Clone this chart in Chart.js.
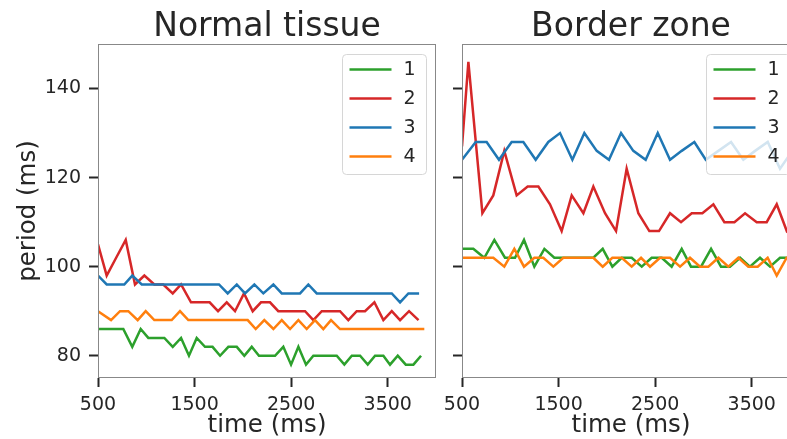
<!DOCTYPE html>
<html>
<head>
<meta charset="utf-8">
<script src="https://cdn.jsdelivr.net/npm/chart.js@4.4.1/dist/chart.umd.min.js"></script>
<style>
html,body{margin:0;padding:0;overflow:hidden;background:#fff;width:787px;height:439px}
#left{position:absolute;left:0;top:0;width:460px;height:439px}
#right{position:absolute;left:430px;top:0;width:370px;height:439px}
</style>
</head>
<body>
<div id="left"><canvas id="c1"></canvas></div>
<div id="right"><canvas id="c2"></canvas></div>
<script>
// series labels + tick values
const labels = ['1','2','3','4']
const colors = ['#2ca02c','#d62728','#1f77b4','#ff7f0e']
const xTicks = [500,1500,2500,3500]
const yTicks = [80,100,120,140]

// --- Normal tissue: activation time (ms) / period (ms) ---
const nTime1 = [500,589,676,762,855,942,1021,1104,1187,1274,1360,1442,1522,1608,1686,1764,1850,1937,2015,2092,2167,2247,2333,2419,2499,2575,2654,2730,2817,2892,2972,3051,3128,3214,3293,3369,3455,3524,3604,3687,3766,3845]
const nPer1  = [86,86,86,86,82,86,84,84,84,82,84,80,84,82,82,80,82,82,80,82,80,80,80,82,78,82,78,80,80,80,80,78,80,80,78,80,80,78,80,78,78,80]
const nTime2 = [500,590,688,787,883,980,1083,1176,1274,1360,1463,1562,1656,1743,1833,1919,2012,2102,2188,2281,2367,2465,2568,2644,2730,2817,2913,3006,3092,3179,3265,3362,3455,3542,3628,3721,3819]
const nPer2  = [105,98,102,106,96,98,96,96,94,96,92,92,92,90,92,90,94,90,92,92,90,90,90,90,88,90,90,90,88,90,90,92,88,90,88,90,88]
const nTime3 = [500,590,681,772,855,953,1053,1152,1253,1352,1453,1553,1653,1753,1843,1937,2022,2119,2212,2316,2403,2499,2592,2678,2765,2862,2960,3056,3153,3251,3348,3444,3542,3628,3714,3825]
const nPer3  = [98,96,96,96,98,96,96,96,96,96,96,96,96,96,94,96,94,96,94,96,94,94,94,96,94,94,94,94,94,94,94,94,94,92,94,94]
const nTime4 = [500,635,728,814,911,994,1083,1173,1263,1349,1435,1523,1611,1699,1787,1875,1963,2050,2133,2222,2316,2403,2489,2575,2661,2747,2833,2913,3006,3093,3181,3268,3355,3443,3530,3617,3704,3792,3879]
const nPer4  = [90,88,90,90,88,90,88,88,88,90,88,88,88,88,88,88,88,88,86,88,86,88,86,88,86,88,86,88,86,86,86,86,86,86,86,86,86,86,86]

// --- Border zone ---
const bTime1 = [500,617,731,835,945,1049,1142,1249,1353,1456,1556,1656,1760,1860,1957,2057,2154,2257,2361,2464,2568,2671,2775,2871,2975,3079,3182,3275,3379,3482,3586,3690,3793,3897]
const bPer1  = [104,104,102,106,102,102,106,100,104,102,102,102,102,102,104,100,102,102,100,102,102,100,104,100,100,104,100,100,102,100,102,100,102,102]
const bTime2 = [500,566,711,824,938,1066,1180,1291,1411,1532,1636,1757,1860,1981,2095,2205,2326,2440,2540,2654,2768,2879,2989,3103,3217,3321,3431,3552,3655,3759,3863,3970]
const bPer2  = [127,146,112,116,126,116,118,118,114,108,116,112,118,112,108,122,112,108,108,112,110,112,112,114,110,110,112,110,110,114,108,110]
const bTime3 = [500,642,755,883,1014,1135,1263,1394,1515,1643,1767,1895,2022,2147,2274,2402,2527,2654,2775,2906,3024,3155,3286,3413,3535,3666,3793,3920]
const bPer3  = [124,128,128,124,128,128,124,128,130,124,130,126,124,130,126,124,130,124,126,128,124,126,128,124,126,128,122,126]
const bTime4 = [500,610,717,824,938,1042,1142,1249,1342,1446,1549,1653,1757,1860,1957,2057,2154,2257,2354,2447,2551,2654,2758,2861,2965,3051,3155,3258,3362,3465,3562,3665,3759,3862,3960]
const bPer4  = [102,102,102,102,100,104,100,102,102,100,102,102,102,102,100,102,102,100,102,100,102,102,100,102,100,100,102,100,102,100,100,102,98,102,102]

const FONT = '"DejaVu Sans", sans-serif'
const INK = '#262626'

const pts = (t,p)=> t.map((v,i)=>({x:v, y:p[i]}))
const mkSets = list => list.map(([t,p],i)=>({ label:labels[i], data:pts(t,p), borderColor:colors[i], backgroundColor:colors[i], borderWidth:2.5, pointRadius:0, tension:0, order:4-i }))

// frame around the plot area (all four sides)
const frame = { id:'frame', afterDatasetsDraw(chart){
  const {ctx, chartArea:a} = chart
  ctx.save(); ctx.strokeStyle = '#888'; ctx.lineWidth = 1
  ctx.strokeRect(Math.round(a.left)+0.5, Math.round(a.top)+0.5, Math.round(a.right-a.left)-1, Math.round(a.bottom-a.top)-1)
  ctx.restore()
}}

// matplotlib-like legend box, upper right inside the axes
const legendBox = { id:'legendBox', afterDatasetsDraw(chart){
  const {ctx, chartArea:a} = chart
  const w = 84, h = 120, x = Math.round(a.right - 94)+0.5, y = Math.round(a.top + 10)+0.5
  ctx.save()
  ctx.beginPath(); ctx.roundRect(x, y, w, h, 4)
  ctx.fillStyle = 'rgba(255,255,255,0.8)'; ctx.fill()
  ctx.strokeStyle = '#d6d6d6'; ctx.lineWidth = 1; ctx.stroke()
  ctx.font = '19px ' + FONT; ctx.textBaseline = 'middle'; ctx.fillStyle = INK
  chart.data.datasets.forEach((ds,i)=>{
    const cy = y + 15 + i*29
    ctx.strokeStyle = ds.borderColor; ctx.lineWidth = 2.5
    ctx.beginPath(); ctx.moveTo(x+7, cy); ctx.lineTo(x+49, cy); ctx.stroke()
    ctx.fillText(ds.label, x+61, cy+1)
  })
  ctx.restore()
}}

function makeChart(id, title, sets, yWidth, padRight, showY){
  return new Chart(document.getElementById(id), {
    type:'line',
    data:{ datasets:sets },
    plugins:[frame, legendBox],
    options:{
      responsive:true, maintainAspectRatio:false, animation:false,
      layout:{ padding:{ left:0, right:padRight, top:0, bottom:0 } },
      plugins:{
        legend:{ display:false }, tooltip:{ enabled:false },
        title:{ display:true, text:title, fullSize:false, color:INK, font:{ size:33, family:FONT, weight:'normal', lineHeight:1 }, padding:{ top:11, bottom:0 } }
      },
      scales:{
        x:{ type:'linear', min:500, max:4000,
          afterBuildTicks: s=>{ s.ticks = xTicks.map(v=>({value:v})) },
          afterFit: s=>{ s.height = 61 },
          border:{ display:false },
          grid:{ drawOnChartArea:false, tickLength:9, tickWidth:2, tickColor:INK, color:INK },
          ticks:{ color:INK, font:{ size:19, family:FONT }, padding:7, maxRotation:0, autoSkip:false, callback: v=> String(v) },
          title:{ display:true, text:'time (ms)', color:INK, font:{ size:24.5, family:FONT, lineHeight:1.05 }, padding:{ top:0, bottom:0 } }
        },
        y:{ type:'linear', min:75, max:150,
          afterBuildTicks: s=>{ s.ticks = yTicks.map(v=>({value:v})) },
          afterFit: s=>{ s.width = yWidth },
          border:{ display:false },
          grid:{ drawOnChartArea:false, tickLength:9, tickWidth:2, tickColor:INK, color:INK },
          ticks:{ display:showY, color:INK, font:{ size:19, family:FONT }, padding:8, callback: v=> String(v) },
          title:{ display:showY, text:'period (ms)', color:INK, font:{ size:24.5, family:FONT }, padding:{ top:14, bottom:0 } }
        }
      }
    }
  })
}

makeChart('c1', 'Normal tissue', mkSets([[nTime1,nPer1],[nTime2,nPer2],[nTime3,nPer3],[nTime4,nPer4]]), 98, 24, true)
makeChart('c2', 'Border zone', mkSets([[bTime1,bPer1],[bTime2,bPer2],[bTime3,bPer3],[bTime4,bPer4]]), 32, 0, false)
</script>
</body>
</html>
